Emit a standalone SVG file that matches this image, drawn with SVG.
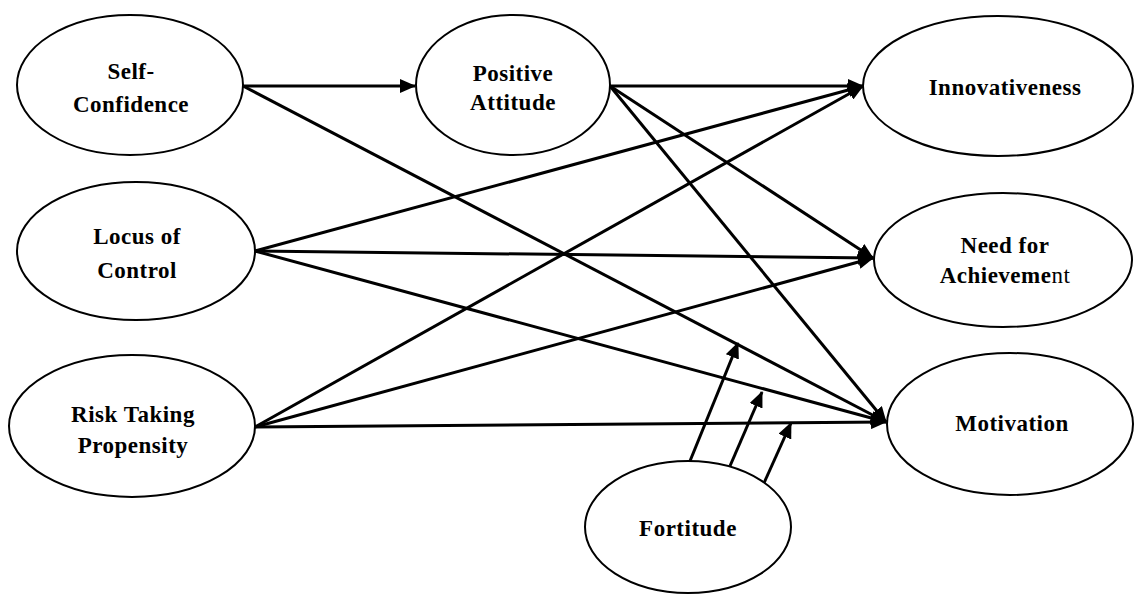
<svg xmlns="http://www.w3.org/2000/svg" width="1134" height="595" viewBox="0 0 1134 595">
<style>
.node ellipse{fill:#fff;stroke:#000;stroke-width:2}
.node text{font-family:"Liberation Serif","Times New Roman",serif;font-weight:bold;font-size:23px;letter-spacing:0.5px;fill:#000;text-anchor:middle}
.edges line{stroke:#000;stroke-width:3;marker-end:url(#arr)}
.reg{font-weight:normal}
</style>
<defs>
<marker id="arr" markerUnits="userSpaceOnUse" markerWidth="16" markerHeight="14" viewBox="0 0 16 14" refX="15" refY="7" orient="auto">
<path d="M0,0 L16,7 L0,14 z" fill="#000"/>
</marker>
</defs>
<rect width="1134" height="595" fill="#fff"/>
<g class="edges">
<line x1="243" y1="86" x2="415" y2="86"/>
<line x1="243" y1="86" x2="886" y2="422"/>
<line x1="610" y1="86" x2="863" y2="86"/>
<line x1="610" y1="86" x2="873" y2="258"/>
<line x1="610" y1="86" x2="886" y2="422"/>
<line x1="255" y1="251" x2="863" y2="86"/>
<line x1="255" y1="251" x2="873" y2="258"/>
<line x1="255" y1="251" x2="886" y2="422"/>
<line x1="255" y1="427" x2="863" y2="86"/>
<line x1="255" y1="427" x2="873" y2="258"/>
<line x1="255" y1="427" x2="886" y2="422"/>
<line x1="690" y1="461" x2="738" y2="343"/>
<line x1="730" y1="466" x2="762" y2="392"/>
<line x1="764" y1="483" x2="791" y2="423"/>
</g>
<g id="self-confidence" class="node">
<ellipse cx="130" cy="85" rx="113" ry="70"/>
<text x="131" y="79">Self-</text>
<text x="131" y="112">Confidence</text>
</g>
<g id="positive-attitude" class="node">
<ellipse cx="513" cy="85" rx="97" ry="70"/>
<text x="513" y="81">Positive</text>
<text x="513" y="110">Attitude</text>
</g>
<g id="innovativeness" class="node">
<ellipse cx="998" cy="86" rx="135" ry="70"/>
<text x="1005" y="95">Innovativeness</text>
</g>
<g id="locus-of-control" class="node">
<ellipse cx="136" cy="251" rx="119" ry="69"/>
<text x="137" y="244">Locus of</text>
<text x="137" y="278">Control</text>
</g>
<g id="need-for-achievement" class="node">
<ellipse cx="1003" cy="260" rx="129" ry="67"/>
<text x="1005" y="253">Need for</text>
<text x="1005" y="283">Achieveme<tspan class="reg">nt</tspan></text>
</g>
<g id="risk-taking-propensity" class="node">
<ellipse cx="132" cy="426" rx="123" ry="71"/>
<text x="133" y="422">Risk Taking</text>
<text x="133" y="453">Propensity</text>
</g>
<g id="motivation" class="node">
<ellipse cx="1010" cy="424" rx="123" ry="71"/>
<text x="1012" y="431">Motivation</text>
</g>
<g id="fortitude" class="node">
<ellipse cx="688" cy="527" rx="103" ry="66"/>
<text x="688" y="536">Fortitude</text>
</g>
</svg>
